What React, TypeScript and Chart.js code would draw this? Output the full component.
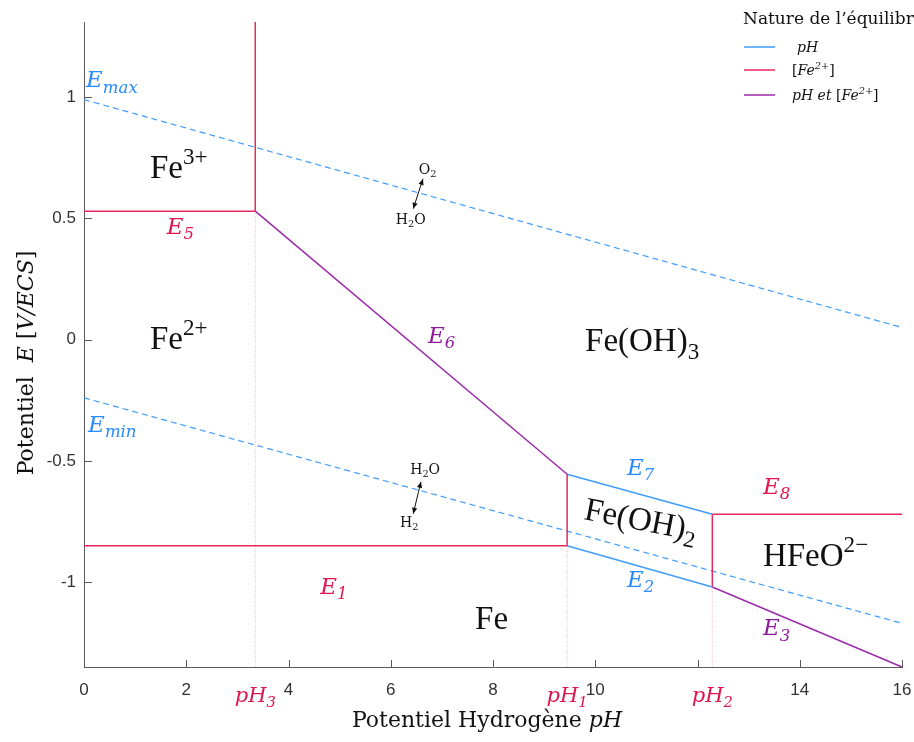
import React, { useEffect, useRef } from 'react';
import { Chart, registerables } from 'chart.js';
Chart.register(...registerables);

// ---------- data ----------
const xTicks = [0, 2, 4, 6, 8, 10, 12, 14, 16];
const yTicks = [-1, -0.5, 0, 0.5, 1];
const X_MIN = 0, X_MAX = 16, Y_MIN = -1.35, Y_MAX = 1.31;

const boundaryNames = ['3', '1', '2'];
const boundaryPH = [3.35, 9.45, 12.29];

const Emax = [[0, 0.99], [16, 0.05]];
const Emin = [[0, -0.24], [16, -1.17]];
const E5 = [[0, 0.53], [3.35, 0.53]];
const E5vert = [[3.35, 0.53], [3.35, 1.31]];
const E6 = [[3.35, 0.53], [9.45, -0.555]];
const E1 = [[0, -0.85], [9.45, -0.85]];
const E1vert = [[9.45, -0.85], [9.45, -0.555]];
const E7 = [[9.45, -0.555], [12.29, -0.72]];
const E8 = [[12.29, -0.72], [16, -0.72]];
const E2 = [[9.45, -0.85], [12.29, -1.02]];
const E8vert = [[12.29, -1.02], [12.29, -0.72]];
const E3 = [[12.29, -1.02], [16, -1.35]];
const guidePH3 = [[3.35, -1.35], [3.35, 0.53]];
const guidePH1 = [[9.45, -1.35], [9.45, -0.85]];
const guidePH2 = [[12.29, -1.35], [12.29, -1.02]];

const legendNames = ['pH', '[Fe2+]', 'pH et [Fe2+]'];

// ---------- styles ----------
const BLUE = '#3f9dff';
const RED = '#e8275c';
const PURPLE = '#9b2ba9';
const GUIDE = '#f4b3c3';
const BLUE_T = '#2a8cff';
const RED_T = '#e0164f';
const PURPLE_T = '#8d1c9c';
const AXIS = '#5a5a5a';
const SERIF = '"DejaVu Serif", serif';
const TIMES = '"Liberation Serif", serif';

type Part = { t: string; it?: boolean; pos?: 'sup' | 'sub' };

function drawRich(
  ctx: CanvasRenderingContext2D,
  parts: Part[],
  x: number,
  y: number,
  size: number,
  family: string,
  color: string,
  align: 'left' | 'center' = 'left',
  sc = 0.7
) {
  const fontFor = (p: Part) => `${p.it ? 'italic ' : ''}${p.pos ? size * sc : size}px ${family}`;
  let total = 0;
  const widths = parts.map((p) => {
    ctx.font = fontFor(p);
    const w = ctx.measureText(p.t).width;
    total += w;
    return w;
  });
  let cx = align === 'center' ? x - total / 2 : x;
  ctx.fillStyle = color;
  ctx.textBaseline = 'alphabetic';
  ctx.textAlign = 'left';
  parts.forEach((p, i) => {
    ctx.font = fontFor(p);
    const dy = p.pos === 'sup' ? -size * 0.42 : p.pos === 'sub' ? size * 0.22 : 0;
    ctx.fillText(p.t, cx, y + dy);
    cx += widths[i];
  });
}

function arrowHead(ctx: CanvasRenderingContext2D, x: number, y: number, ang: number) {
  const L = 6, W = 2.6;
  ctx.beginPath();
  ctx.moveTo(x, y);
  ctx.lineTo(x - L * Math.cos(ang) + W * Math.sin(ang), y - L * Math.sin(ang) - W * Math.cos(ang));
  ctx.lineTo(x - L * Math.cos(ang) - W * Math.sin(ang), y - L * Math.sin(ang) + W * Math.cos(ang));
  ctx.closePath();
  ctx.fill();
}

function doubleArrow(ctx: CanvasRenderingContext2D, x1: number, y1: number, x2: number, y2: number) {
  ctx.save();
  ctx.strokeStyle = '#111';
  ctx.fillStyle = '#111';
  ctx.lineWidth = 1;
  ctx.beginPath();
  ctx.moveTo(x1, y1);
  ctx.lineTo(x2, y2);
  ctx.stroke();
  const a = Math.atan2(y2 - y1, x2 - x1);
  arrowHead(ctx, x2, y2, a);
  arrowHead(ctx, x1, y1, a + Math.PI);
  ctx.restore();
}

const toPts = (arr: number[][]) => arr.map(([x, y]) => ({ x, y }));

const annotPlugin = {
  id: 'annot',
  afterDraw(chart: any) {
    const ctx: CanvasRenderingContext2D = chart.ctx;
    const xs = chart.scales.x, ys = chart.scales.y;
    const { left, right, top, bottom } = chart.chartArea;
    const X = (v: number) => xs.getPixelForValue(v);
    const Y = (v: number) => ys.getPixelForValue(v);
    ctx.save();

    // inward tick marks
    ctx.strokeStyle = AXIS;
    ctx.lineWidth = 1;
    ctx.beginPath();
    xTicks.forEach((t) => {
      const px = Math.round(X(t)) + 0.5;
      ctx.moveTo(px, bottom);
      ctx.lineTo(px, bottom - 7);
    });
    yTicks.forEach((t) => {
      const py = Math.round(Y(t)) + 0.5;
      ctx.moveTo(left, py);
      ctx.lineTo(left + 8, py);
    });
    ctx.stroke();

    // pH tick labels
    boundaryPH.forEach((v, i) => {
      drawRich(ctx, [{ t: 'pH', it: true }, { t: boundaryNames[i], it: true, pos: 'sub' }], X(v), bottom + 35, 21, SERIF, RED_T, 'center');
    });

    // axis titles
    drawRich(ctx, [{ t: 'Potentiel Hydrogène ' }, { t: 'pH', it: true }], (left + right) / 2 - 6, bottom + 60, 22, SERIF, '#111', 'center');
    ctx.save();
    ctx.translate(33, 363);
    ctx.rotate(-Math.PI / 2);
    drawRich(ctx, [{ t: 'Potentiel  ' }, { t: 'E', it: true }, { t: ' [' }, { t: 'V/ECS', it: true }, { t: ']' }], 0, 0, 22, SERIF, '#111', 'center');
    ctx.restore();

    // region labels
    const R = 33;
    drawRich(ctx, [{ t: 'Fe' }, { t: '3+', pos: 'sup' }], X(1.29), Y(0.668), R, TIMES, '#111');
    drawRich(ctx, [{ t: 'Fe' }, { t: '2+', pos: 'sup' }], X(1.29), Y(-0.04), R, TIMES, '#111');
    drawRich(ctx, [{ t: 'Fe(OH)' }, { t: '3', pos: 'sub' }], X(9.8), Y(-0.048), R, TIMES, '#111');
    ctx.save();
    ctx.translate(X(9.76), Y(-0.74));
    ctx.rotate((11 * Math.PI) / 180);
    drawRich(ctx, [{ t: 'Fe(OH)' }, { t: '2', pos: 'sub' }], 0, 0, R, TIMES, '#111');
    ctx.restore();
    drawRich(ctx, [{ t: 'HFeO' }, { t: '2−', pos: 'sup' }], X(13.28), Y(-0.934), R, TIMES, '#111');
    drawRich(ctx, [{ t: 'Fe' }], X(7.65), Y(-1.194), R, TIMES, '#111');

    // E labels
    const ES = 23;
    const eLab = (sub: string, x: number, y: number, color: string) =>
      drawRich(ctx, [{ t: 'E', it: true }, { t: sub, it: true, pos: 'sub' }], X(x), Y(y), ES, SERIF, color, 'left', 0.72);
    eLab('max', 0.04, 1.04, BLUE_T);
    eLab('5', 1.62, 0.435, RED_T);
    eLab('6', 6.73, -0.015, PURPLE_T);
    eLab('min', 0.08, -0.379, BLUE_T);
    eLab('1', 4.62, -1.05, RED_T);
    eLab('7', 10.62, -0.56, BLUE_T);
    eLab('8', 13.28, -0.636, RED_T);
    eLab('2', 10.62, -1.02, BLUE_T);
    eLab('3', 13.28, -1.22, PURPLE_T);

    // water couples
    const cs = 14;
    drawRich(ctx, [{ t: 'O' }, { t: '2', pos: 'sub' }], X(6.55), Y(0.684), cs, SERIF, '#111');
    drawRich(ctx, [{ t: 'H' }, { t: '2', pos: 'sub' }, { t: 'O' }], X(6.1), Y(0.478), cs, SERIF, '#111');
    doubleArrow(ctx, X(6.44), Y(0.54), X(6.63), Y(0.663));
    drawRich(ctx, [{ t: 'H' }, { t: '2', pos: 'sub' }, { t: 'O' }], X(6.38), Y(-0.553), cs, SERIF, '#111');
    drawRich(ctx, [{ t: 'H' }, { t: '2', pos: 'sub' }], X(6.18), Y(-0.772), cs, SERIF, '#111');
    doubleArrow(ctx, X(6.59), Y(-0.586), X(6.44), Y(-0.718));

    // legend
    drawRich(ctx, [{ t: 'Nature de l’équilibre' }], 743, 24, 17, SERIF, '#111');
    const lc = [BLUE, RED, PURPLE];
    const ly = [47, 70, 95];
    const lparts: Part[][] = [
      [{ t: 'pH', it: true }],
      [{ t: '[' }, { t: 'Fe', it: true }, { t: '2+', it: true, pos: 'sup' }, { t: ']' }],
      [{ t: 'pH et ', it: true }, { t: '[' }, { t: 'Fe', it: true }, { t: '2+', it: true, pos: 'sup' }, { t: ']' }],
    ];
    legendNames.forEach((_, i) => {
      ctx.strokeStyle = lc[i];
      ctx.lineWidth = 1.5;
      ctx.beginPath();
      ctx.moveTo(744, ly[i]);
      ctx.lineTo(775, ly[i]);
      ctx.stroke();
      drawRich(ctx, lparts[i], i === 0 ? 797 : 792, ly[i] + 5, 14, SERIF, '#111');
    });

    ctx.restore();
  },
};

export default function App() {
  const ref = useRef<HTMLCanvasElement | null>(null);
  useEffect(() => {
    if (!ref.current) return;
    const line = (data: number[][], color: string, extra: any = {}) => ({
      data: toPts(data),
      borderColor: color,
      backgroundColor: color,
      borderWidth: 1.5,
      showLine: true,
      pointRadius: 0,
      pointHoverRadius: 0,
      fill: false,
      clip: false,
      ...extra,
    });
    const chart = new Chart(ref.current, {
      type: 'scatter',
      data: {
        datasets: [
          line(E5, RED),
          line(E5vert, RED),
          line(E6, PURPLE),
          line(E1, RED),
          line(E1vert, RED),
          line(E7, BLUE),
          line(E8, RED),
          line(E2, BLUE),
          line(E8vert, RED),
          line(E3, PURPLE),
          line(Emax, BLUE, { borderDash: [6, 4], borderWidth: 1.2 }),
          line(Emin, BLUE, { borderDash: [6, 4], borderWidth: 1.2 }),
          line(guidePH3, GUIDE, { borderDash: [1, 1.5], borderWidth: 1 }),
          line(guidePH1, GUIDE, { borderDash: [1, 1.5], borderWidth: 1 }),
          line(guidePH2, GUIDE, { borderDash: [1, 1.5], borderWidth: 1 }),
        ],
      },
      options: {
        animation: false,
        responsive: false,
        events: [],
        layout: { padding: { top: 22, right: 0, left: 0, bottom: 0 } },
        plugins: { legend: { display: false }, tooltip: { enabled: false } },
        scales: {
          x: {
            type: 'linear',
            min: X_MIN,
            max: X_MAX,
            grid: { display: false, drawTicks: false },
            border: { display: true, color: AXIS, width: 1 },
            afterBuildTicks: (s: any) => {
              s.ticks = xTicks.map((v) => ({ value: v }));
            },
            afterFit: (s: any) => {
              s.height = 75;
              s.paddingRight = 12;
              s.paddingLeft = 0;
            },
            ticks: {
              autoSkip: false,
              maxRotation: 0,
              padding: 13,
              color: '#333',
              font: { family: '"Liberation Sans", Arial, sans-serif', size: 17 },
              callback: (v: any) => (v === 12 ? '' : String(v)),
            },
          },
          y: {
            type: 'linear',
            min: Y_MIN,
            max: Y_MAX,
            grid: { display: false, drawTicks: false },
            border: { display: true, color: AXIS, width: 1 },
            afterBuildTicks: (s: any) => {
              s.ticks = yTicks.map((v) => ({ value: v }));
            },
            afterFit: (s: any) => {
              s.width = 84;
            },
            ticks: {
              padding: 8,
              color: '#333',
              font: { family: '"Liberation Sans", Arial, sans-serif', size: 17 },
              callback: (v: any) => String(v),
            },
          },
        },
      },
      plugins: [annotPlugin],
    });
    return () => chart.destroy();
  }, []);
  return (
    <div style={{ position: 'absolute', left: 0, top: 0, width: 914, height: 742, background: '#fff' }}>
      <canvas ref={ref} width={914} height={742} style={{ display: 'block' }} />
    </div>
  );
}
